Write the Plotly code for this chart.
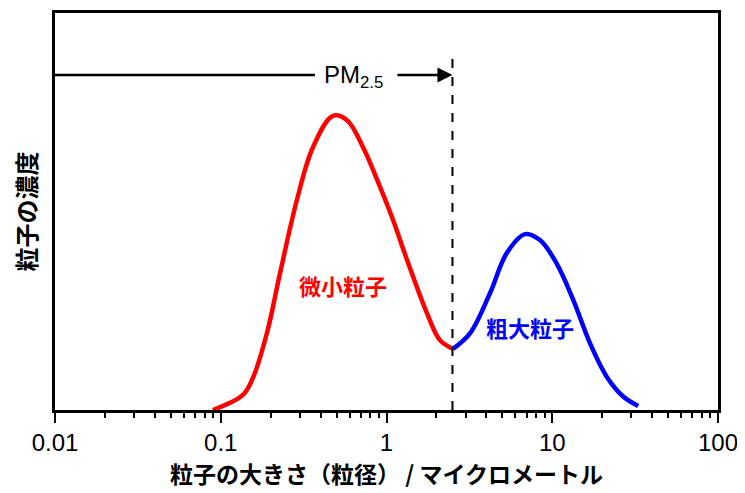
import math
import plotly.graph_objects as go

# Fine particle mode (red)
fine_x = [0.0897, 0.136, 0.157, 0.190, 0.228, 0.288, 0.360, 0.475, 0.578, 0.722, 0.914, 1.094, 1.330, 1.754, 2.10, 2.52]
fine_y = [0.0, 3.8, 8.3, 19.4, 34.5, 52.9, 66.2, 74.1, 73.0, 66.2, 56.2, 47.9, 37.8, 24.4, 17.6, 15.4]

# Coarse particle mode (blue)
coarse_x = [2.52, 3.19, 4.21, 5.31, 6.85, 8.43, 10.6, 13.4, 16.9, 21.3, 26.8, 33.0]
coarse_y = [15.4, 19.3, 29.4, 39.5, 44.3, 42.8, 37.0, 27.7, 16.8, 8.4, 3.4, 1.0]

pm_cut = 2.5
tick_vals = [0.01, 0.1, 1, 10, 100]
tick_text = ["0.01", "0.1", "1", "10", "100"]

fig = go.Figure()
fig.add_trace(go.Scatter(x=fine_x, y=fine_y, mode="lines", line=dict(color="#ff0000", width=4.5, shape="spline"), hoverinfo="skip"))
fig.add_trace(go.Scatter(x=coarse_x, y=coarse_y, mode="lines", line=dict(color="#0000ff", width=4.5, shape="spline"), hoverinfo="skip"))
# dashed PM2.5 cut line
fig.add_trace(go.Scatter(x=[pm_cut, pm_cut], y=[0, 90.2], mode="lines", line=dict(color="black", width=2, dash="dash"), hoverinfo="skip"))
# left part of arrow
fig.add_trace(go.Scatter(x=[0.01, 0.37], y=[84.4, 84.4], mode="lines", line=dict(color="black", width=2.5), hoverinfo="skip"))

fig.add_annotation(x=math.log10(pm_cut), y=84.4, ax=math.log10(1.14), ay=84.4, xref="x", yref="y", axref="x", ayref="y",
                   text="", showarrow=True, arrowhead=2, arrowsize=1.2, arrowwidth=2.5, arrowcolor="black")
fig.add_annotation(x=math.log10(0.63), y=84.4, text="PM<sub>2.5</sub>", showarrow=False,
                   font=dict(family="Liberation Sans, Arial", size=24, color="black"), yshift=-2)
fig.add_annotation(x=math.log10(0.55), y=31.5, text="<b>微小粒子</b>", showarrow=False,
                   font=dict(family="Noto Sans CJK JP", size=22, color="#ff0000"))
fig.add_annotation(x=math.log10(7.3), y=20.9, text="<b>粗大粒子</b>", showarrow=False,
                   font=dict(family="Noto Sans CJK JP", size=22, color="#0000ff"))

# page body has an 8px margin, so the figure is sized to fit the 745x493 window
fig.update_layout(
    width=737, height=485,
    margin=dict(l=47, r=27, t=5, b=83),
    plot_bgcolor="white", paper_bgcolor="white",
    showlegend=False,
    xaxis=dict(type="log", range=[-2, 2], tickvals=tick_vals, ticktext=tick_text,
               ticks="outside", ticklen=10, tickwidth=2, tickcolor="black",
               showline=True, linecolor="black", linewidth=2.5, mirror=True,
               showgrid=False, zeroline=False, automargin=False,
               ticklabeloverflow="allow", ticklabelstandoff=-1,
               tickfont=dict(family="Liberation Sans, Arial", size=24, color="black"),
               minor=dict(dtick="D1", ticks="outside", ticklen=5, tickwidth=2, tickcolor="black", showgrid=False),
               title=dict(text="<b>粒子の大きさ（粒径） / マイクロメートル</b>", standoff=12,
                          font=dict(family="Noto Sans CJK JP", size=23, color="black"))),
    yaxis=dict(range=[0, 100], showticklabels=False, ticks="",
               showline=True, linecolor="black", linewidth=2.5, mirror=True,
               showgrid=False, zeroline=False, automargin=False,
               title=dict(text="<b>粒子の濃度</b>", standoff=31,
                          font=dict(family="Noto Sans CJK JP", size=24, color="black"))),
)

fig.write_html("out.html")
